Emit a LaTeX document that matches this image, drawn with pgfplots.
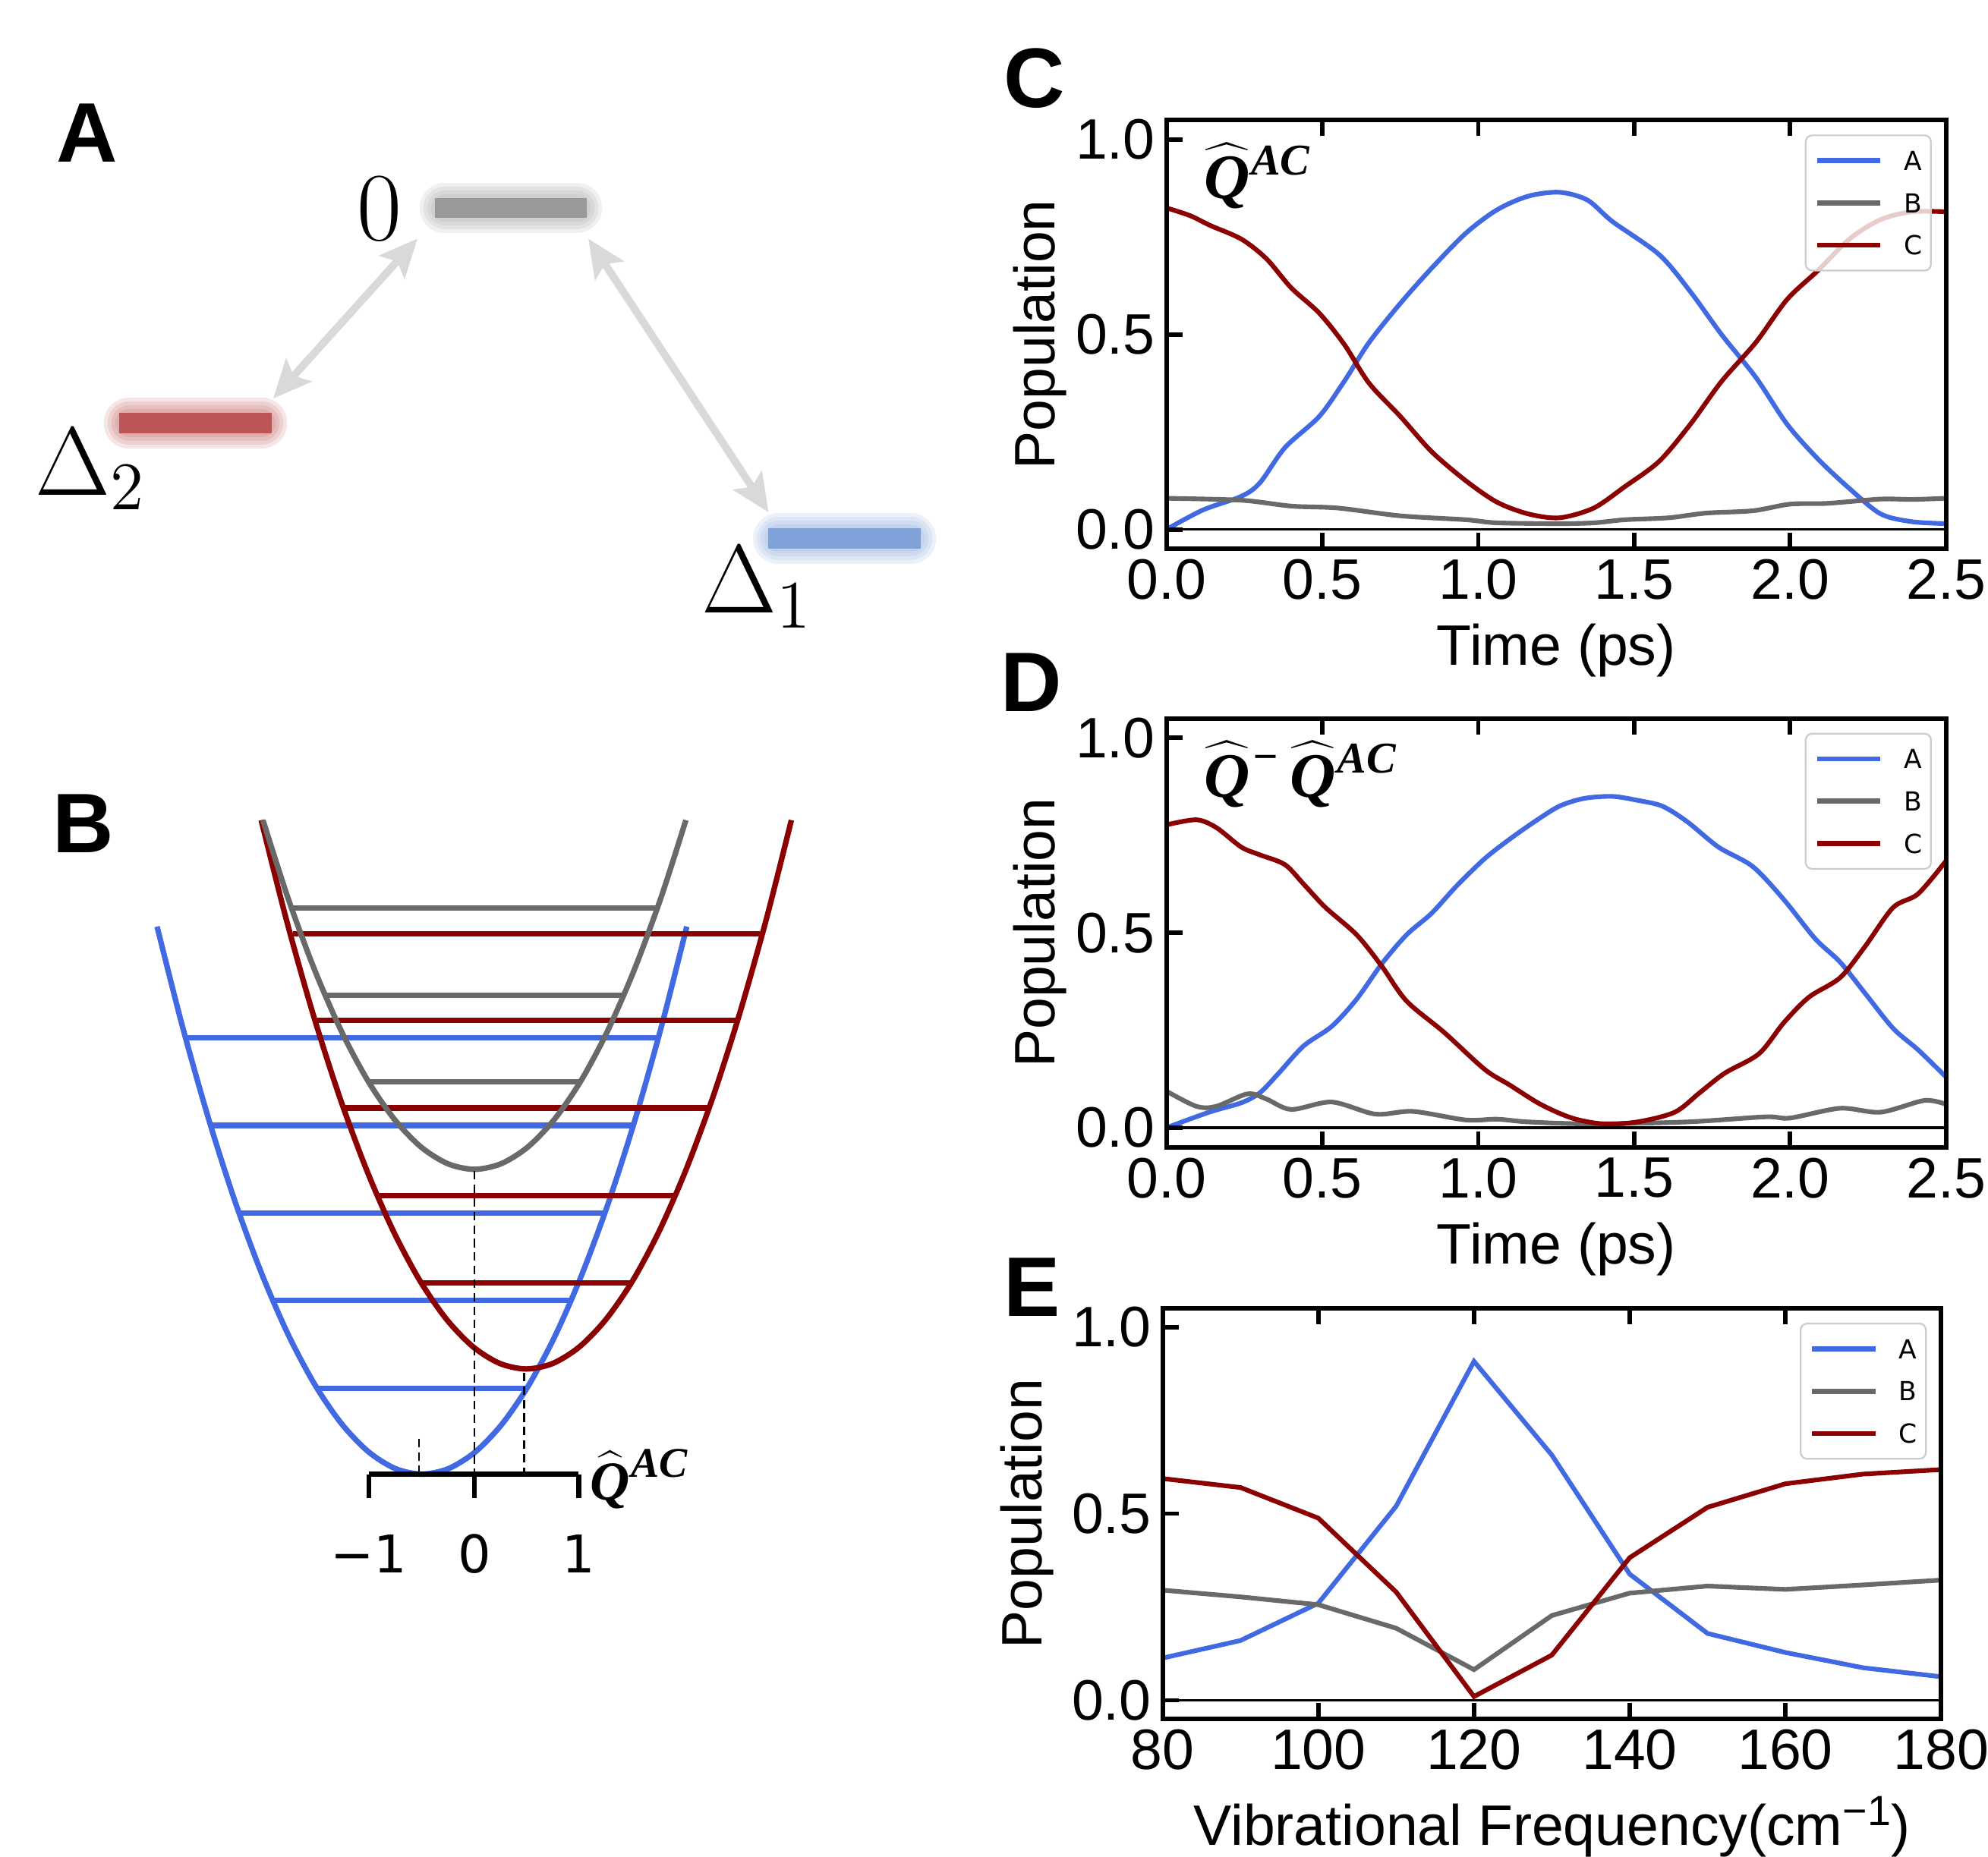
\RequirePackage{fix-cm}
\documentclass[border=0pt]{standalone}
\usepackage[no-math]{fontspec}
\setmainfont{Liberation Sans}
\newfontfamily\dejavu{DejaVu Sans}
\newfontfamily\lserif{Liberation Serif}
\usepackage{pgfplots}
\pgfplotsset{compat=1.18}
\usetikzlibrary{arrows.meta}
\definecolor{cA}{HTML}{4169E1}
\definecolor{cB}{HTML}{696969}
\definecolor{cC}{HTML}{8B0000}
\definecolor{barG}{HTML}{999999}
\definecolor{barR}{HTML}{BE5555}
\definecolor{barB}{HTML}{80A2D8}
\definecolor{arrowgray}{HTML}{D9D9D9}
\newcommand{\bQ}[1]{\hbox{\lserif\bfseries\itshape\fontsize{#1}{#1}\selectfont Q}}
\newcommand{\bS}[2]{\hbox{\lserif\bfseries\itshape\fontsize{#1}{#1}\selectfont #2}}
\pgfplotsset{
  ov/.style={at={(0pt,0pt)}, anchor=south west, scale only axis, width=470.4pt, height=439.5pt,
    xmin=0, xmax=1568, ymin=0, ymax=1465, y dir=reverse, hide axis, clip=false},
  popaxis/.style={
    scale only axis, anchor=south west, axis on top,
    axis line style={line width=1.05pt},
    tick align=inside, major tick length=3.8pt,
    every tick/.style={black, line width=1.05pt},
    xtick pos=both, ytick pos=left,
    ymin=-0.05, ymax=1.05,
    ytick={0,0.5,1}, yticklabels={0.0,0.5,1.0},
    tick label style={font=\fontsize{13.5}{16}\selectfont},
    xticklabel style={inner sep=2.3pt},
    yticklabel style={inner sep=2.5pt},
    legend style={at={(rel axis cs:1,1)}, anchor=north east, xshift=-3.4pt, yshift=-3.4pt,
      draw=black!20, line width=0.4pt, rounded corners=1.5pt,
      fill=white, fill opacity=0.8, text opacity=1,
      font=\dejavu\fontsize{6.2}{7}\selectfont,
      inner xsep=2.1pt, inner ysep=1pt, row sep=0pt,
      nodes={inner sep=0pt, minimum height=10pt, text depth=0pt},
      /tikz/every odd column/.append style={column sep=4.9pt}},
    legend cell align=left,
  },
  timeaxis/.style={popaxis, width=184.5pt, height=101.49pt,
    xmin=0, xmax=2.5, xtick={0,0.5,1,1.5,2,2.5},
    xticklabels={0.0,0.5,1.0,1.5,2.0,2.5},
    xlabel={Time (ps)}, ylabel={Population},
    every axis x label/.style={at={(axis description cs:0.5,-0.2717)}, anchor=base, font=\fontsize{13.5}{16}\selectfont},
    every axis y label/.style={at={(axis description cs:-0.1431,0.5)}, anchor=base, rotate=90, font=\fontsize{13.5}{16}\selectfont},
  },
}
\pgfplotsset{legend image code/.code={\draw[#1, line width=1.2pt] (0pt,0pt) -- (15pt,0pt);}}
\begin{document}
\begin{tikzpicture}[x=0.3pt,y=0.3pt]
\useasboundingbox (0,0) rectangle (1568,1465);
% ---------------- panel A bars ----------------
\begin{axis}[ov]
\addplot[barG, mark=none, opacity=0.15, line width=12pt, line cap=round] coordinates {(351,164) (455,164)};
\addplot[barG, mark=none, opacity=0.15, line width=10.2pt, line cap=round] coordinates {(351,164) (455,164)};
\addplot[barG, mark=none, opacity=0.15, line width=8.4pt, line cap=round] coordinates {(351,164) (455,164)};
\addplot[barG, mark=none, opacity=0.15, line width=6.6pt, line cap=round] coordinates {(351,164) (455,164)};
\addplot[barG, mark=none, line width=4.8pt] coordinates {(343,164) (463,164)};
\addplot[barR, mark=none, opacity=0.15, line width=12pt, line cap=round] coordinates {(101.8,333.7) (206.5,333.7)};
\addplot[barR, mark=none, opacity=0.15, line width=10.2pt, line cap=round] coordinates {(101.8,333.7) (206.5,333.7)};
\addplot[barR, mark=none, opacity=0.15, line width=8.4pt, line cap=round] coordinates {(101.8,333.7) (206.5,333.7)};
\addplot[barR, mark=none, opacity=0.15, line width=6.6pt, line cap=round] coordinates {(101.8,333.7) (206.5,333.7)};
\addplot[barR, mark=none, line width=4.8pt] coordinates {(93.8,333.7) (214.5,333.7)};
\addplot[barB, mark=none, opacity=0.15, line width=12pt, line cap=round] coordinates {(614,425) (718.4,425)};
\addplot[barB, mark=none, opacity=0.15, line width=10.2pt, line cap=round] coordinates {(614,425) (718.4,425)};
\addplot[barB, mark=none, opacity=0.15, line width=8.4pt, line cap=round] coordinates {(614,425) (718.4,425)};
\addplot[barB, mark=none, opacity=0.15, line width=6.6pt, line cap=round] coordinates {(614,425) (718.4,425)};
\addplot[barB, mark=none, line width=4.8pt] coordinates {(606,425) (726.4,425)};
\end{axis}
% ---------------- panel A arrows ----------------
\begin{axis}[ov]
\addplot[arrowgray, mark=none, line width=1.8pt, >={Stealth[length=9pt,width=8pt,inset=1.8pt]}, <->] coordinates {(329.3,188.3) (215.5,314.4)};
\addplot[arrowgray, mark=none, line width=1.8pt, >={Stealth[length=9pt,width=8pt,inset=1.8pt]}, <->] coordinates {(464,188.3) (606.2,404.2)};
\end{axis}
% ---------------- panel A labels ----------------
\begin{axis}[ov]
\node[anchor=base west, inner sep=0pt, font=\fontsize{23}{28}\selectfont] at (axis cs:281.3,189.5) {$0$};
\node[anchor=base west, inner sep=0pt, font=\fontsize{23}{28}\selectfont] at (axis cs:27,390.4) {$\Delta_2$};
\node[anchor=base west, inner sep=0pt, font=\fontsize{23}{28}\selectfont] at (axis cs:553,483.7) {$\Delta_1$};
\end{axis}
% ---------------- panel B curves ----------------
\begin{axis}[ov]
\addplot[cA, mark=none, line width=1.3pt, smooth] coordinates {(123.9,731.0) (143.8,809.4) (164.8,883.6) (185.8,949.1) (206.8,1005.8) (227.8,1053.9) (248.8,1093.2) (269.8,1123.7) (290.8,1145.5) (311.8,1158.6) (332.8,1163) (353.8,1158.6) (374.8,1145.5) (395.8,1123.7) (416.8,1093.2) (437.8,1053.9) (458.8,1005.8) (479.8,949.1) (500.8,883.6) (521.8,809.4) (541.7,731.0)};
\addplot[cA, mark=none, line width=1.3pt] coordinates {(250.0,1095.2) (415.6,1095.2)};
\addplot[cA, mark=none, line width=1.3pt] coordinates {(215.2,1026.1) (450.4,1026.1)};
\addplot[cA, mark=none, line width=1.3pt] coordinates {(188.6,957.1) (477.0,957.1)};
\addplot[cA, mark=none, line width=1.3pt] coordinates {(166.1,887.9) (499.5,887.9)};
\addplot[cA, mark=none, line width=1.3pt] coordinates {(146.4,818.9) (519.2,818.9)};
\addplot[cC, mark=none, line width=1.3pt, smooth] coordinates {(206.0,647.0) (226.1,726.4) (247.1,800.6) (268.1,866.1) (289.1,922.8) (310.1,970.9) (331.1,1010.2) (352.1,1040.7) (373.1,1062.5) (394.1,1075.6) (415.1,1080) (436.1,1075.6) (457.1,1062.5) (478.1,1040.7) (499.1,1010.2) (520.1,970.9) (541.1,922.8) (562.1,866.1) (583.1,800.6) (604.1,726.4) (624.2,647.0)};
\addplot[cC, mark=none, line width=1.3pt] coordinates {(332.4,1012.3) (497.8,1012.3)};
\addplot[cC, mark=none, line width=1.3pt] coordinates {(297.5,943.2) (532.7,943.2)};
\addplot[cC, mark=none, line width=1.3pt] coordinates {(270.9,874.1) (559.3,874.1)};
\addplot[cC, mark=none, line width=1.3pt] coordinates {(248.4,805.0) (581.8,805.0)};
\addplot[cC, mark=none, line width=1.3pt] coordinates {(230.9,736.9) (601.3,736.9)};
\addplot[cB, mark=none, line width=1.3pt, smooth] coordinates {(207.4,647.0) (227.2,708.6) (248.2,765.3) (269.2,813.4) (290.2,852.7) (311.2,883.2) (332.2,905.0) (353.2,918.1) (374.2,922.5) (395.2,918.1) (416.2,905.0) (437.2,883.2) (458.2,852.7) (479.2,813.4) (500.2,765.3) (521.2,708.6) (541.0,647.0)};
\addplot[cB, mark=none, line width=1.3pt] coordinates {(290.7,853.4) (457.7,853.4)};
\addplot[cB, mark=none, line width=1.3pt] coordinates {(256.4,785.2) (492.0,785.2)};
\addplot[cB, mark=none, line width=1.3pt] coordinates {(229.8,716.2) (518.6,716.2)};
\end{axis}
% ---------------- panel B guides and Q axis ----------------
\begin{axis}[ov]
\addplot[black, mark=none, line width=0.45pt, dash pattern=on 2pt off 1.2pt] coordinates {(374.2,924) (374.2,1163)};
\addplot[black, mark=none, line width=0.45pt, dash pattern=on 2pt off 1.2pt] coordinates {(413.5,1083) (413.5,1163)};
\addplot[black, mark=none, line width=0.45pt, dash pattern=on 2pt off 1.2pt] coordinates {(330.5,1135) (330.5,1163)};
\addplot[black, mark=none, line width=1.2pt] coordinates {(290.9,1163) (456.5,1163)};
\addplot[black, mark=none, line width=1.2pt] coordinates {(290.9,1163) (290.9,1182)};
\addplot[black, mark=none, line width=1.2pt] coordinates {(374.2,1163) (374.2,1182)};
\addplot[black, mark=none, line width=1.2pt] coordinates {(456.5,1163) (456.5,1182)};
\end{axis}
% ---------------- panel B labels ----------------
\begin{axis}[ov]
\node[anchor=base, inner sep=0pt, font=\dejavu\fontsize{12.3}{14}\selectfont] at (axis cs:290.9,1241) {\char8722 1};
\node[anchor=base, inner sep=0pt, font=\dejavu\fontsize{12.3}{14}\selectfont] at (axis cs:374.2,1241) {0};
\node[anchor=base, inner sep=0pt, font=\dejavu\fontsize{12.3}{14}\selectfont] at (axis cs:456.5,1241) {1};
\node[anchor=base west, inner sep=0pt] at (axis cs:465,1183.6) {$\widehat{\bQ{13}}$\kern0.2pt\raisebox{5.5pt}{\bS{10}{AC}}};
\end{axis}
% ---------------- panel letters ----------------
\begin{axis}[ov]
\node[anchor=base west, inner sep=0pt, font=\fontsize{20}{24}\selectfont\bfseries] at (axis cs:44,128) {A};
\node[anchor=base west, inner sep=0pt, font=\fontsize{20}{24}\selectfont\bfseries] at (axis cs:41,672.4) {B};
\node[anchor=base west, inner sep=0pt, font=\fontsize{20}{24}\selectfont\bfseries] at (axis cs:791,84.5) {C};
\node[anchor=base west, inner sep=0pt, font=\fontsize{20}{24}\selectfont\bfseries] at (axis cs:789,561) {D};
\node[anchor=base west, inner sep=0pt, font=\fontsize{20}{24}\selectfont\bfseries] at (axis cs:791,1038.3) {E};
\end{axis}
% ---------------- panel C ----------------
\begin{axis}[timeaxis, at={(276pt,309.57pt)}]
\addplot[black, mark=none, line width=0.6pt, forget plot] coordinates {(0,0) (2.5,0)};
\addplot[cA, mark=none, line width=1.1pt, smooth] coordinates {(0,0.0) (0.117,0.05) (0.24,0.085) (0.30,0.12) (0.38,0.21) (0.49,0.29) (0.57,0.38) (0.65,0.48) (0.75,0.58) (0.85,0.67) (0.96,0.76) (1.06,0.82) (1.16,0.855) (1.26,0.865) (1.35,0.845) (1.43,0.79) (1.58,0.705) (1.68,0.61) (1.78,0.50) (1.89,0.39) (1.99,0.27) (2.09,0.18) (2.19,0.105) (2.29,0.04) (2.39,0.02) (2.5,0.015)};
\addplot[cB, mark=none, line width=1.1pt, smooth] coordinates {(0,0.08) (0.24,0.075) (0.40,0.06) (0.55,0.055) (0.75,0.035) (0.96,0.025) (1.06,0.017) (1.26,0.015) (1.37,0.017) (1.47,0.025) (1.61,0.03) (1.73,0.042) (1.88,0.048) (2.0,0.065) (2.12,0.067) (2.29,0.078) (2.39,0.077) (2.5,0.08)};
\addplot[cC, mark=none, line width=1.1pt, smooth] coordinates {(0,0.825) (0.076,0.805) (0.14,0.78) (0.24,0.745) (0.32,0.695) (0.40,0.62) (0.49,0.555) (0.57,0.475) (0.65,0.375) (0.75,0.29) (0.85,0.20) (0.96,0.125) (1.06,0.07) (1.16,0.04) (1.26,0.03) (1.37,0.055) (1.47,0.11) (1.58,0.175) (1.68,0.27) (1.78,0.38) (1.89,0.48) (1.99,0.59) (2.09,0.665) (2.19,0.745) (2.29,0.795) (2.39,0.815) (2.5,0.815)};
\legend{A,B,C}
\node[anchor=base west, inner sep=0pt] at (rel axis cs:0.0472,0.817) {$\widehat{\bQ{15}}$\kern0.3pt\raisebox{5.7pt}{\bS{10.4}{AC}}};
\end{axis}
% ---------------- panel D ----------------
\begin{axis}[timeaxis, at={(276pt,167.97pt)}]
\addplot[black, mark=none, line width=0.6pt, forget plot] coordinates {(0,0) (2.5,0)};
\addplot[cA, mark=none, line width=1.1pt, smooth] coordinates {(0,0) (0.137,0.04) (0.24,0.064) (0.30,0.09) (0.36,0.14) (0.44,0.21) (0.53,0.26) (0.61,0.33) (0.69,0.42) (0.77,0.495) (0.85,0.55) (0.93,0.62) (1.02,0.69) (1.10,0.74) (1.18,0.785) (1.26,0.825) (1.34,0.845) (1.43,0.85) (1.51,0.84) (1.59,0.825) (1.67,0.785) (1.77,0.72) (1.88,0.67) (1.98,0.585) (2.08,0.485) (2.16,0.425) (2.24,0.345) (2.33,0.255) (2.41,0.20) (2.5,0.13)};
\addplot[cB, mark=none, line width=1.1pt, smooth] coordinates {(0,0.094) (0.096,0.055) (0.16,0.055) (0.26,0.087) (0.32,0.074) (0.40,0.047) (0.53,0.066) (0.67,0.035) (0.79,0.042) (0.96,0.02) (1.06,0.022) (1.16,0.015) (1.36,0.01) (1.67,0.015) (1.92,0.028) (2.0,0.025) (2.16,0.05) (2.29,0.04) (2.43,0.07) (2.5,0.06)};
\addplot[cC, mark=none, line width=1.1pt, smooth] coordinates {(0,0.777) (0.096,0.79) (0.16,0.77) (0.24,0.72) (0.30,0.70) (0.38,0.675) (0.44,0.625) (0.51,0.565) (0.61,0.495) (0.69,0.415) (0.77,0.325) (0.89,0.245) (1.02,0.15) (1.10,0.11) (1.20,0.06) (1.30,0.025) (1.40,0.01) (1.51,0.015) (1.63,0.04) (1.71,0.09) (1.79,0.14) (1.90,0.19) (1.98,0.27) (2.06,0.335) (2.16,0.385) (2.24,0.465) (2.33,0.565) (2.41,0.60) (2.5,0.685)};
\legend{A,B,C}
\node[anchor=base west, inner sep=0pt] at (rel axis cs:0.0472,0.817) {$\widehat{\bQ{15}}$\kern0.6pt\raisebox{6pt}{\bS{10.4}{\char8722}}\kern2.6pt$\widehat{\bQ{15}}$\kern0.3pt\raisebox{5.7pt}{\bS{10.4}{AC}}};
\end{axis}
% ---------------- panel E ----------------
\begin{axis}[popaxis, at={(275.1pt,32.67pt)}, width=184.2pt, height=97.17pt,
  xmin=80, xmax=180, xtick={80,100,120,140,160,180},
  xticklabels={80,100,120,140,160,180},
  xlabel={Vibrational Frequency(cm\raisebox{4.7pt}{\fontsize{10}{11}\selectfont\char8722 1})}, ylabel={Population},
  every axis x label/.style={at={(axis description cs:0.5,-0.3078)}, anchor=base, font=\fontsize{13.5}{16}\selectfont},
  every axis y label/.style={at={(axis description cs:-0.1547,0.5)}, anchor=base, rotate=90, font=\fontsize{13.5}{16}\selectfont}]
\addplot[black, mark=none, line width=0.6pt, forget plot] coordinates {(80,0) (180,0)};
\addplot[cA, mark=none, line width=1.1pt] coordinates {(80,0.113) (90,0.16) (100,0.26) (110,0.52) (120,0.908) (130,0.657) (140,0.338) (150,0.179) (160,0.128) (170,0.087) (180,0.063)};
\addplot[cB, mark=none, line width=1.1pt] coordinates {(80,0.295) (90,0.277) (100,0.256) (110,0.193) (120,0.082) (130,0.227) (140,0.287) (150,0.306) (160,0.297) (170,0.309) (180,0.322)};
\addplot[cC, mark=none, line width=1.1pt] coordinates {(80,0.594) (90,0.57) (100,0.488) (110,0.29) (120,0.01) (130,0.121) (140,0.382) (150,0.517) (160,0.58) (170,0.606) (180,0.618)};
\legend{A,B,C}
\end{axis}
\end{tikzpicture}
\end{document}
